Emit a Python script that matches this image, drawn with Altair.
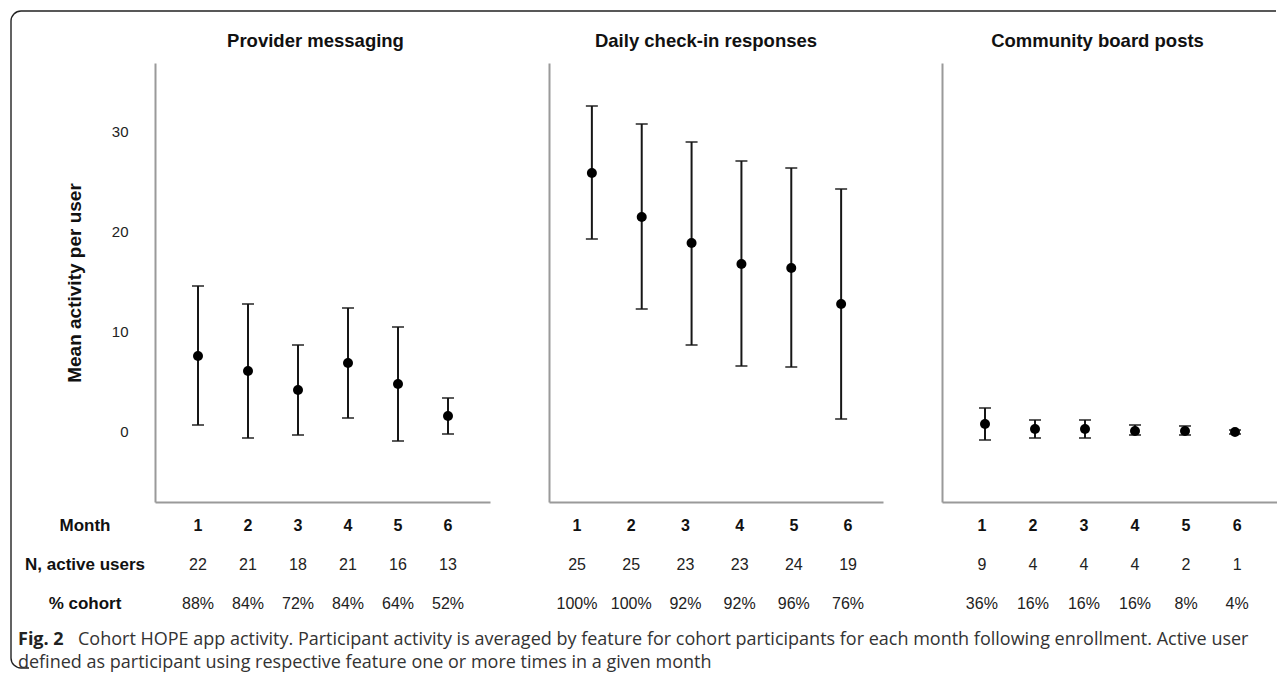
import altair as alt
import pandas as pd

# ---------------- data ----------------
months = [1, 2, 3, 4, 5, 6]
panel_titles = ["Provider messaging", "Daily check-in responses", "Community board posts"]

mean_pm = [7.5, 6.0, 4.1, 6.8, 4.7, 1.5]
hi_pm = [14.5, 12.7, 8.6, 12.3, 10.4, 3.3]
lo_pm = [0.6, -0.7, -0.4, 1.3, -1.0, -0.3]

mean_dc = [25.8, 21.4, 18.8, 16.7, 16.3, 12.7]
hi_dc = [32.5, 30.7, 28.9, 27.0, 26.3, 24.2]
lo_dc = [19.2, 12.2, 8.6, 6.5, 6.4, 1.2]

mean_cb = [0.7, 0.2, 0.2, 0.0, 0.0, -0.1]
hi_cb = [2.3, 1.1, 1.1, 0.6, 0.5, 0.1]
lo_cb = [-0.9, -0.7, -0.7, -0.4, -0.4, -0.3]

n_pm = [22, 21, 18, 21, 16, 13]
n_dc = [25, 25, 23, 23, 24, 19]
n_cb = [9, 4, 4, 4, 2, 1]

pct_pm = ["88%", "84%", "72%", "84%", "64%", "52%"]
pct_dc = ["100%", "100%", "92%", "92%", "96%", "76%"]
pct_cb = ["36%", "16%", "16%", "16%", "8%", "4%"]

row_labels = ["Month", "N, active users", "% cohort"]
y_ticks = [0, 10, 20, 30]
y_title = "Mean activity per user"

caption_bold = "Fig. 2"
caption_line1 = ("Cohort HOPE app activity. Participant activity is averaged by feature for cohort "
                 "participants for each month following enrollment. Active user")
caption_line2 = "defined as participant using respective feature one or more times in a given month"

# ---------------- style ----------------
FONT = "Liberation Sans"
CAP_FONT = "Open Sans"
AXIS_GREY = "#9a9a9a"
INK = "#161616"
PLOT_H = 439
X_DOMAIN = [0.14, 6.84]
Y_DOMAIN = [-7.1, 36.8]
ROW_RANGE = [463, 541]          # table rows, below the plot area

# frame geometry relative to the first panel's plot origin
FR_X, FR_Y, FR_X2, FR_Y2, FR_R = -144, -52, 1121, 605, 10
FR_W, FR_H = FR_X2 - FR_X, FR_Y2 - FR_Y
ARC = 3.1416 * FR_R / 2
# draw top side, skip right side and most of the bottom, draw bottom-left corner + left side
FRAME_DASH = [FR_W - FR_R, FR_H + (FR_W - FR_R) - 8, 8 + ARC + (FR_H - 2 * FR_R) + ARC + 4, 2000]


def plot_layer(means, los, his, show_y):
    df = pd.DataFrame({"month": months, "mean": means, "lo": los, "hi": his})
    xenc = alt.X("month:Q",
                 scale=alt.Scale(domain=X_DOMAIN, nice=False, zero=False),
                 axis=alt.Axis(labels=False, ticks=False, grid=False, title=None,
                               domainColor=AXIS_GREY, domainWidth=2))
    if show_y:
        yaxis = alt.Axis(values=y_ticks, ticks=False, grid=False, domainColor=AXIS_GREY,
                         domainWidth=2, labelPadding=27, labelFontSize=15, labelColor="#222",
                         labelFont=FONT, title=y_title, titleFontSize=19, titleFontWeight="bold",
                         titleColor="#111", titleFont=FONT, titlePadding=27)
    else:
        yaxis = alt.Axis(labels=False, ticks=False, grid=False, title=None,
                         domainColor=AXIS_GREY, domainWidth=2)
    yscale = alt.Scale(domain=Y_DOMAIN, nice=False, zero=False)

    base = alt.Chart(df)
    rule = base.mark_rule(color=INK, strokeWidth=2).encode(
        x=xenc, y=alt.Y("lo:Q", scale=yscale, axis=yaxis), y2="hi:Q")
    cap_lo = base.mark_tick(orient="horizontal", size=12, thickness=2, color=INK).encode(
        x=xenc, y=alt.Y("lo:Q", scale=yscale, axis=yaxis))
    cap_hi = base.mark_tick(orient="horizontal", size=12, thickness=2, color=INK).encode(
        x=xenc, y=alt.Y("hi:Q", scale=yscale, axis=yaxis))
    pts = base.mark_point(filled=True, size=100, color="#000", opacity=1).encode(
        x=xenc, y=alt.Y("mean:Q", scale=yscale, axis=yaxis))
    return alt.layer(rule, cap_lo, cap_hi, pts)


def table_layer(n_vals, pct_vals, x_domain, show_rows):
    recs = []
    for m, nn, p in zip(months, n_vals, pct_vals):
        recs.append({"month": m, "row": row_labels[0], "label": str(m)})
        recs.append({"month": m, "row": row_labels[1], "label": str(nn)})
        recs.append({"month": m, "row": row_labels[2], "label": p})
    df = pd.DataFrame(recs)
    xenc = alt.X("month:Q", scale=alt.Scale(domain=x_domain, nice=False, zero=False), axis=None)
    yenc = alt.Y("row:N", scale=alt.Scale(domain=row_labels, type="point", range=ROW_RANGE,
                                          padding=0), axis=None)
    base = alt.Chart(df)
    bold = base.transform_filter(alt.datum.row == row_labels[0]).mark_text(
        font=FONT, fontSize=16, fontWeight="bold", color="#111", baseline="middle").encode(
        x=xenc, y=yenc, text="label:N")
    norm = base.transform_filter(alt.datum.row != row_labels[0]).mark_text(
        font=FONT, fontSize=16, color="#222", baseline="middle").encode(
        x=xenc, y=yenc, text="label:N")
    layers = [bold, norm]
    if show_rows:
        rl = alt.Chart(pd.DataFrame({"row": row_labels})).mark_text(
            font=FONT, fontSize=17, fontWeight="bold", color="#111", align="center",
            baseline="middle").encode(x=alt.value(-70), y=yenc, text="row:N")
        layers.append(rl)
    return alt.layer(*layers)


def title_layer(title, width, dx):
    return alt.Chart(pd.DataFrame({"t": [title]})).mark_text(
        font=FONT, fontSize=18.5, fontWeight="bold", color="#111", align="center",
        baseline="middle").encode(x=alt.value(width / 2 + dx), y=alt.value(-22), text="t:N")


def decorations():
    # figure frame (top and left sides inside the picture) and the caption
    one = alt.Chart(pd.DataFrame({"bold": [caption_bold], "l1": [caption_line1],
                                  "l2": [caption_line2]}))
    frame = one.mark_rect(fillOpacity=0, stroke="#222", strokeWidth=1.4,
                          cornerRadiusTopLeft=FR_R, cornerRadiusBottomLeft=FR_R,
                          strokeDash=FRAME_DASH).encode(
        x=alt.value(FR_X), y=alt.value(FR_Y), x2=alt.value(FR_X2), y2=alt.value(FR_Y2))
    cap_a = one.mark_text(font=CAP_FONT, fontSize=18, fontWeight="bold", color="#222",
                          align="left", baseline="middle").encode(
        x=alt.value(-137), y=alt.value(577), text="bold:N")
    cap_b = one.mark_text(font=CAP_FONT, fontSize=18, color="#333",
                          align="left", baseline="middle").encode(
        x=alt.value(-77), y=alt.value(577), text="l1:N")
    cap_c = one.mark_text(font=CAP_FONT, fontSize=18, color="#333",
                          align="left", baseline="middle").encode(
        x=alt.value(-137), y=alt.value(600), text="l2:N")
    return [frame, cap_a, cap_b, cap_c]


def panel(idx, means, los, his, n_vals, pct_vals, t_domain, width, title_dx):
    first = idx == 0
    layers = [plot_layer(means, los, his, first),
              table_layer(n_vals, pct_vals, t_domain, first),
              title_layer(panel_titles[idx], width, title_dx)]
    if first:
        layers += decorations()
    return alt.layer(*layers).resolve_scale(x="independent", y="independent").properties(
        width=width, height=PLOT_H)


p1 = panel(0, mean_pm, lo_pm, hi_pm, n_pm, pct_pm, [0.14, 6.84], 335, -7)
p2 = panel(1, mean_dc, lo_dc, hi_dc, n_dc, pct_dc, [0.483, 6.645], 334, -10)
p3 = panel(2, mean_cb, lo_cb, hi_cb, n_cb, pct_cb, [0.219, 6.781], 335, -12)

chart = alt.hconcat(p1, p2, p3, spacing=59, bounds="flush").properties(
    padding={"left": 2, "top": 2, "right": 0, "bottom": 0}
).configure(font=FONT).configure_view(stroke=None)

chart.save("out.html", embed_options={"renderer": "svg", "actions": False})
